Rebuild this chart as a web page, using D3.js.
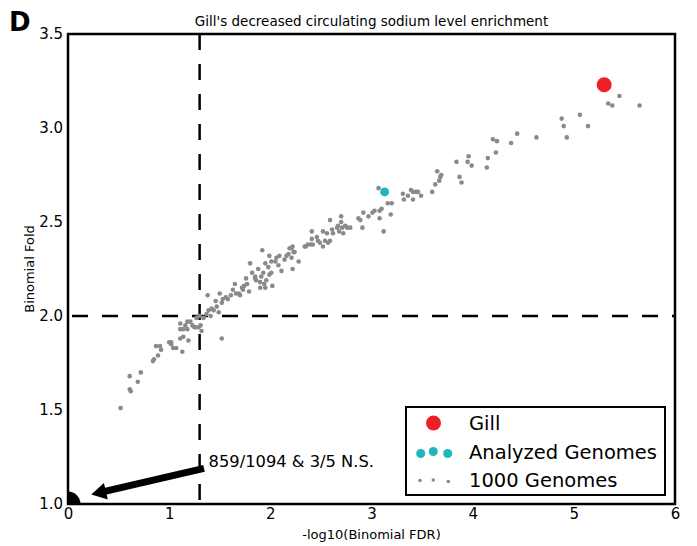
<!DOCTYPE html>
<html>
<head>
<meta charset="utf-8">
<script src="https://cdn.jsdelivr.net/npm/d3@7/dist/d3.min.js"></script>
<style>
  body { margin: 0; background: #fff; }
  text { font-family: "DejaVu Sans", sans-serif; }
</style>
</head>
<body>
<div id="viz-wrapper"></div>
<script>
// values: -log10(binomial FDR) vs binomial fold
var genomes1000 = [
  [0.52,1.51],[0.61,1.61],[0.62,1.60],[0.61,1.68],[0.69,1.65],[0.72,1.70],[0.84,1.76],[0.85,1.77],
  [0.89,1.79],[0.87,1.84],[0.91,1.84],[0.92,1.82],[1.00,1.86],[1.02,1.86],[1.02,1.85],[1.04,1.83],
  [1.07,1.83],[1.13,1.81],[1.11,1.88],[1.14,1.89],[1.19,1.87],[1.11,1.93],[1.14,1.93],[1.18,1.93],
  [1.11,1.96],[1.18,1.97],[1.23,1.95],[1.25,1.94],[1.26,1.94],[1.29,1.94],[1.31,1.95],[1.32,1.92],
  [1.52,1.88],[1.27,1.99],[1.30,2.00],[1.37,2.01],[1.39,2.03],[1.42,2.04],[1.44,2.03],[1.47,2.05],
  [1.49,2.02],[1.38,2.11],[1.46,2.08],[1.50,2.12],[1.52,2.07],[1.53,2.09],[1.56,2.10],[1.58,2.09],
  [1.61,2.11],[1.63,2.14],[1.65,2.17],[1.66,2.12],[1.69,2.12],[1.72,2.15],[1.74,2.16],[1.77,2.17],
  [1.79,2.13],[1.80,2.28],[1.82,2.23],[1.85,2.21],[1.88,2.25],[1.86,2.19],[1.90,2.18],[1.91,2.21],
  [1.93,2.23],[1.94,2.17],[1.90,2.15],[1.95,2.15],[1.96,2.19],[1.99,2.22],[2.01,2.23],[2.02,2.16],
  [1.92,2.35],[1.95,2.28],[1.99,2.32],[2.01,2.29],[2.05,2.29],[2.06,2.31],[2.09,2.32],[2.11,2.24],
  [2.14,2.30],[2.16,2.32],[2.18,2.33],[2.21,2.36],[2.23,2.34],[2.21,2.31],[2.22,2.25],[2.28,2.29],
  [2.35,2.37],[2.37,2.38],[2.40,2.38],[2.41,2.45],[2.41,2.41],[2.42,2.38],[2.46,2.42],[2.47,2.40],
  [2.49,2.39],[2.52,2.45],[2.52,2.37],[2.54,2.40],[2.56,2.44],[2.57,2.39],[2.59,2.40],[2.59,2.51],
  [2.61,2.46],[2.62,2.44],[2.66,2.47],[2.67,2.48],[2.68,2.45],[2.70,2.53],[2.70,2.50],[2.71,2.47],
  [2.72,2.44],[2.74,2.48],[2.76,2.47],[2.79,2.47],[2.87,2.52],[2.89,2.51],[2.91,2.47],[2.92,2.55],
  [2.97,2.53],[3.01,2.55],[3.03,2.56],[3.08,2.52],[3.08,2.56],[3.10,2.57],[3.12,2.45],[3.16,2.60],
  [3.19,2.54],[3.20,2.60],[3.07,2.68],[3.31,2.65],[3.32,2.62],[3.36,2.64],[3.39,2.67],[3.41,2.66],
  [3.41,2.62],[3.44,2.66],[3.46,2.66],[3.49,2.64],[3.60,2.66],[3.63,2.70],[3.65,2.77],[3.67,2.72],
  [3.68,2.74],[3.69,2.75],[3.84,2.82],[3.87,2.74],[3.89,2.71],[3.95,2.82],[3.96,2.85],[3.99,2.80],
  [4.14,2.79],[4.15,2.84],[4.20,2.94],[4.24,2.93],[4.23,2.87],[4.38,2.92],[4.44,2.97],[4.63,2.95],
  [4.88,3.05],[4.90,3.01],[4.93,2.95],[5.06,3.07],[5.14,3.01],[5.34,3.13],[5.38,3.12],[5.45,3.17],
  [5.65,3.12],[1.73,2.14],[1.70,2.11],[1.85,2.20],[2.19,2.36],[2.22,2.37],[2.24,2.34],[2.34,2.37],
  [1.16,1.95],[1.21,1.97],[1.34,1.99],[1.41,2.00],[1.76,2.20],[1.98,2.26],[2.08,2.27]
];
var analyzed = [[3.13,2.66]];
var gill = [[5.30,3.23]];
var notSignificant = [[0,1.0]];   // 859/1094 & 3/5 sit at the origin

var xTicks = [0,1,2,3,4,5,6];
var yTicks = [1.0,1.5,2.0,2.5,3.0,3.5];
var fdrCut = 1.301, foldCut = 2.0;

var legendItems = ["Gill","Analyzed Genomes","1000 Genomes"];

var width = 697, height = 546;
var margin = {left: 68, right: 22, top: 34, bottom: 42};

var svg = d3.select("#viz-wrapper").append("svg")
  .attr("width", width).attr("height", height);

var x = d3.scaleLinear().domain([0,6]).range([margin.left, width - margin.right]);
var y = d3.scaleLinear().domain([1,3.5]).range([height - margin.bottom, margin.top]);

svg.append("clipPath").attr("id", "plotclip")
  .append("rect")
  .attr("x", x(0)).attr("y", y(3.5))
  .attr("width", x(6) - x(0)).attr("height", y(1) - y(3.5));

var plot = svg.append("g").attr("clip-path", "url(#plotclip)");

// threshold lines
plot.append("line")
  .attr("x1", x(fdrCut)).attr("x2", x(fdrCut))
  .attr("y1", y(3.5)).attr("y2", y(1))
  .attr("stroke", "#000").attr("stroke-width", 2.5).attr("stroke-dasharray", "16,14");
plot.append("line")
  .attr("x1", x(0)).attr("x2", x(6))
  .attr("y1", y(foldCut)).attr("y2", y(foldCut))
  .attr("stroke", "#000").attr("stroke-width", 2.5).attr("stroke-dasharray", "16,14")
  .attr("stroke-dashoffset", -4);

plot.selectAll("circle.g1000").data(genomes1000).enter().append("circle")
  .attr("class", "g1000")
  .attr("cx", function(d) { return x(d[0]); })
  .attr("cy", function(d) { return y(d[1]); })
  .attr("r", 2.3).attr("fill", "#8a8a8a");

plot.selectAll("circle.an").data(analyzed).enter().append("circle")
  .attr("cx", function(d) { return x(d[0]); })
  .attr("cy", function(d) { return y(d[1]); })
  .attr("r", 4.5).attr("fill", "#1fb8b8");

plot.selectAll("circle.gill").data(gill).enter().append("circle")
  .attr("cx", function(d) { return x(d[0]); })
  .attr("cy", function(d) { return y(d[1]); })
  .attr("r", 7.5).attr("fill", "#ee1f26");

plot.selectAll("circle.ns").data(notSignificant).enter().append("circle")
  .attr("cx", function(d) { return x(d[0]); })
  .attr("cy", function(d) { return y(d[1]); })
  .attr("r", 12.5).attr("fill", "#000");

// frame
svg.append("rect")
  .attr("x", x(0)).attr("y", y(3.5))
  .attr("width", x(6) - x(0)).attr("height", y(1) - y(3.5))
  .attr("fill", "none").attr("stroke", "#000").attr("stroke-width", 2.5);

// axes (labels only)
var xAxis = svg.append("g")
  .attr("transform", "translate(0," + y(1) + ")")
  .call(d3.axisBottom(x).tickValues(xTicks).tickSize(0).tickPadding(4).tickFormat(d3.format("d")));
var yAxis = svg.append("g")
  .attr("transform", "translate(" + x(0) + ",0)")
  .call(d3.axisLeft(y).tickValues(yTicks).tickSize(0).tickPadding(5).tickFormat(d3.format(".1f")));
[xAxis, yAxis].forEach(function(a) {
  a.select(".domain").remove();
  a.selectAll("text").attr("font-size", 15).attr("fill", "#000")
    .style("font-family", "'DejaVu Sans', sans-serif");
});

// title, panel letter, axis labels
svg.append("text").attr("x", (x(0) + x(6)) / 2).attr("y", 26)
  .attr("text-anchor", "middle").attr("font-size", 13.5).text("Gill's decreased circulating sodium level enrichment");
svg.append("text").attr("x", 9).attr("y", 31)
  .attr("font-size", 26).attr("font-weight", "bold").text("D");
svg.append("text").attr("x", (x(0) + x(6)) / 2).attr("y", 539)
  .attr("text-anchor", "middle").attr("font-size", 13).text("-log10(Binomial FDR)");
svg.append("text")
  .attr("transform", "translate(34," + y(2.25) + ") rotate(-90)")
  .attr("text-anchor", "middle").attr("font-size", 13).text("Binomial Fold");

// annotation arrow pointing at the non-significant pile at the origin
var tail = [1.344, 1.19], tip = [0.23, 1.05];
function arrowPath(p0, p1, shaft, head, headLen) {
  var x0 = x(p0[0]), y0 = y(p0[1]), x1 = x(p1[0]), y1 = y(p1[1]);
  var dx = x1 - x0, dy = y1 - y0, len = Math.sqrt(dx*dx + dy*dy);
  var ux = dx / len, uy = dy / len, nx = -uy, ny = ux;
  var bx = x1 - ux * headLen, by = y1 - uy * headLen;
  var pts = [
    [x0 + nx*shaft/2, y0 + ny*shaft/2],
    [bx + nx*shaft/2, by + ny*shaft/2],
    [bx + nx*head/2, by + ny*head/2],
    [x1, y1],
    [bx - nx*head/2, by - ny*head/2],
    [bx - nx*shaft/2, by - ny*shaft/2],
    [x0 - nx*shaft/2, y0 - ny*shaft/2]
  ];
  return "M" + pts.map(function(p) { return p[0].toFixed(1) + "," + p[1].toFixed(1); }).join("L") + "Z";
}
svg.append("path").attr("d", arrowPath(tail, tip, 7, 17, 15)).attr("fill", "#000");
svg.append("text").attr("x", x(1.39)).attr("y", y(1.197))
  .attr("font-size", 16.3).text("859/1094 & 3/5 N.S.");

// legend
var lg = svg.append("g");
lg.append("rect").attr("x", 406).attr("y", 407).attr("width", 259).attr("height", 88)
  .attr("fill", "#fff").attr("stroke", "#000").attr("stroke-width", 2);
var rowY = [423, 452, 480];
lg.append("circle").attr("cx", 433.5).attr("cy", rowY[0]).attr("r", 7.5).attr("fill", "#ee1f26");
lg.selectAll("circle.la").data([[420.7,1.5],[433.3,-0.5],[447.7,1.5]]).enter().append("circle")
  .attr("cx", function(d) { return d[0]; }).attr("cy", function(d) { return rowY[1] + d[1]; })
  .attr("r", 4.5).attr("fill", "#1fb8b8");
lg.selectAll("circle.lg").data([[420,0.5],[433.3,0],[448.3,1.5]]).enter().append("circle")
  .attr("cx", function(d) { return d[0]; }).attr("cy", function(d) { return rowY[2] + d[1]; })
  .attr("r", 1.8).attr("fill", "#8a8a8a");
lg.selectAll("text").data(legendItems).enter().append("text")
  .attr("x", 469).attr("y", function(d, i) { return rowY[i]; })
  .attr("dy", "0.36em").attr("font-size", 19.5).text(function(d) { return d; });
</script>
</body>
</html>
